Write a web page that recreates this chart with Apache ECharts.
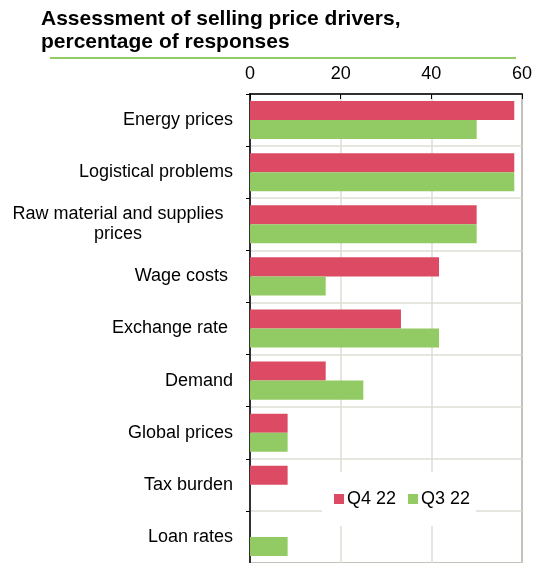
<!DOCTYPE html>
<html><head><meta charset="utf-8">
<script src="https://cdn.jsdelivr.net/npm/echarts@6/dist/echarts.min.js"></script>
<style>html,body{margin:0;padding:0;background:#fff}#c{width:535px;height:563px}</style>
</head><body><div id="c"></div>
<script>
var categories = ["Energy prices", "Logistical problems", "Raw material and supplies\nprices", "Wage costs ", "Exchange rate ", "Demand", "Global prices", "Tax burden", "Loan rates"];
var q4_22 = [58.3, 58.3, 50, 41.7, 33.3, 16.7, 8.3, 8.3, 0];
var q3_22 = [50, 58.3, 50, 16.7, 41.7, 25, 8.3, 0, 8.3];
var xTicks = [0, 20, 40, 60];
var FONT = '"Liberation Sans", Arial, sans-serif';
var chart = echarts.init(document.getElementById('c'), null, {renderer: 'canvas'});
chart.setOption({
  animation: false,
  textStyle: {fontFamily: FONT},
  title: {
    text: 'Assessment of selling price drivers,\npercentage of responses',
    left: 41, top: 8, padding: 0,
    textStyle: {fontFamily: FONT, fontSize: 21, fontWeight: 'bold', color: '#000', lineHeight: 23}
  },
  graphic: [{
    type: 'line', shape: {x1: 50, y1: 58, x2: 516, y2: 58},
    style: {stroke: '#92CA64', lineWidth: 2}
  }],
  legend: {
    data: ['Q4 22', 'Q3 22'],
    left: 322, top: 472,
    padding: [18, 6, 18, 12],
    backgroundColor: '#fff',
    itemWidth: 10, itemHeight: 10, itemGap: 12,
    icon: 'rect',
    textStyle: {fontFamily: FONT, fontSize: 18, color: '#000', padding: [0, 0, 0, -2]}
  },
  grid: {left: 249, right: 11, top: 94, bottom: 0, show: true, borderColor: '#444', borderWidth: 1.5, backgroundColor: 'transparent'},
  xAxis: {
    type: 'value', position: 'top', min: 0, max: 60, interval: 20,
    axisLine: {show: true, lineStyle: {color: '#000', width: 1.5}},
    axisTick: {show: true, inside: true, length: 5, lineStyle: {color: '#000'}},
    axisLabel: {fontFamily: FONT, fontSize: 18, color: '#000', margin: 11,
      formatter: function (v) { return xTicks.indexOf(v) >= 0 ? String(v) : ''; }},
    splitLine: {show: true, lineStyle: {color: '#deded4', width: 1.5}}
  },
  yAxis: {
    type: 'category', data: categories, inverse: true,
    axisLine: {show: true, lineStyle: {color: '#000', width: 1.5}},
    axisTick: {show: true, length: 4, lineStyle: {color: '#000'}},
    axisLabel: {fontFamily: FONT, fontSize: 18, color: '#000', margin: 17, lineHeight: 20,
      formatter: function (v) { return v.indexOf('\n') >= 0 ? '{c|' + v + '}' : v; },
      rich: {c: {fontFamily: FONT, fontSize: 18, color: '#000', width: 230, align: 'center', lineHeight: 20}}},
    splitLine: {show: true, lineStyle: {color: '#deded4', width: 1.5}}
  },
  series: [
    {name: 'Q4 22', type: 'bar', data: q4_22, itemStyle: {color: '#DC4A64'}, barGap: '0%', barCategoryGap: '27%'},
    {name: 'Q3 22', type: 'bar', data: q3_22, itemStyle: {color: '#92CA64'}, barGap: '0%', barCategoryGap: '27%'}
  ]
});
</script></body></html>
